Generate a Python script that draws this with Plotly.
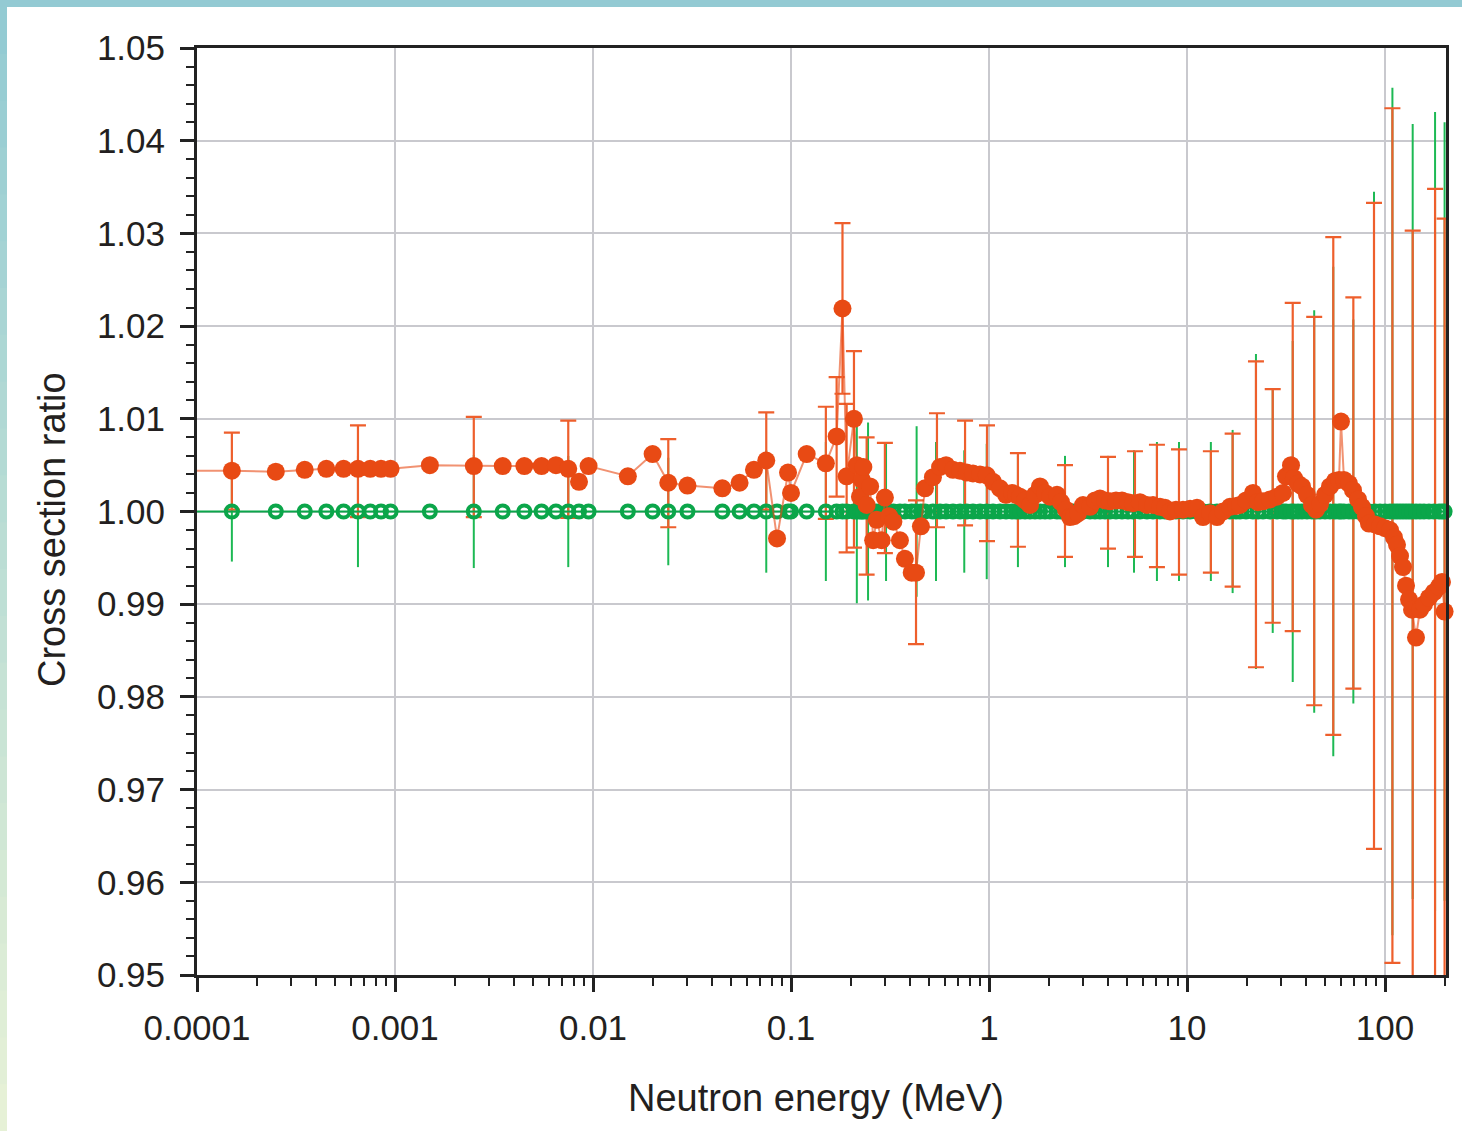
import plotly.graph_objects as go

# ---------------- data ----------------
# Shared neutron energies (MeV) for the two ratio series
energy = [
    1e-6,
    1.5e-4, 2.5e-4, 3.5e-4, 4.5e-4, 5.5e-4, 6.5e-4, 7.5e-4, 8.5e-4, 9.5e-4,
    1.5e-3, 2.5e-3, 3.5e-3, 4.5e-3, 5.5e-3, 6.5e-3, 7.5e-3, 8.5e-3, 9.5e-3,
    0.015, 0.020, 0.024, 0.030, 0.045, 0.055, 0.065, 0.075, 0.085, 0.0966, 0.100, 0.120,
    0.150, 0.170, 0.182, 0.191, 0.208, 0.215, 0.223, 0.228, 0.232, 0.241,
    0.251, 0.260, 0.271, 0.287, 0.298, 0.313, 0.329, 0.355, 0.376, 0.407,
    0.428, 0.453, 0.475, 0.521, 0.566, 0.607, 0.658, 0.714, 0.772, 0.830,
    0.901, 0.974, 1.048, 1.136, 1.219, 1.307, 1.369, 1.434, 1.520, 1.611,
    1.707, 1.810, 1.918, 2.033, 2.205, 2.310, 2.448, 2.565, 2.687, 2.815,
    2.984, 3.237, 3.430, 3.636, 3.854, 4.084, 4.379, 4.696, 5.035, 5.337,
    5.789, 6.280, 6.734, 7.306, 7.743, 8.207, 8.799, 9.546, 10.36, 11.23,
    12.05, 13.07, 14.18, 15.20, 16.49, 17.68, 18.52, 19.86, 21.54, 22.83,
    24.20, 26.25, 28.48, 30.54, 31.62, 33.52, 34.70, 36.36, 38.09, 40.37,
    42.79, 44.82, 46.96, 49.77, 52.75, 55.91, 58.57, 59.95, 62.08, 65.79,
    68.93, 73.06, 76.54, 80.18, 83.02, 89.03, 94.36, 100.0, 106.0, 111.0,
    115.0, 119.1, 123.3, 127.7, 132.2, 136.9, 143.4, 150.2, 157.4, 166.8,
    176.8, 187.4, 194.0, 200.0,
]

# Orange series: cross section ratio
ratio_orange = [
    1.0044,
    1.0044, 1.0043, 1.0045, 1.0046, 1.0046, 1.0046, 1.0046, 1.0046, 1.0046,
    1.0050, 1.0049, 1.0049, 1.0049, 1.0049, 1.0050, 1.0046, 1.0032, 1.0049,
    1.0038, 1.0062, 1.0031, 1.0028, 1.0025, 1.0031, 1.0045, 1.0055, 0.9971, 1.0042, 1.0020, 1.0062,
    1.0052, 1.0081, 1.0219, 1.0038, 1.0100, 1.0050, 1.0016, 1.0034, 1.0048, 1.0007,
    1.0027, 0.9969, 0.9991, 0.9969, 1.0015, 0.9995, 0.9989, 0.9969, 0.9949, 0.9934,
    0.9934, 0.9984, 1.0025, 1.0037, 1.0048, 1.0050, 1.0045, 1.0044, 1.0042, 1.0041,
    1.0040, 1.0039, 1.0032, 1.0025, 1.0018, 1.0020, 1.0018, 1.0016, 1.0012, 1.0007,
    1.0018, 1.0027, 1.0020, 1.0016, 1.0018, 1.0010, 1.0002, 0.9994, 0.9995, 0.9998,
    1.0007, 1.0005, 1.0012, 1.0014, 1.0012, 1.0011, 1.0012, 1.0012, 1.0010, 1.0009,
    1.0010, 1.0007, 1.0007, 1.0005, 1.0004, 1.0000, 1.0002, 1.0002, 1.0003, 1.0004,
    0.9994, 0.9998, 0.9994, 1.0000, 1.0005, 1.0006, 1.0007, 1.0012, 1.0020, 1.0010,
    1.0011, 1.0013, 1.0016, 1.0020, 1.0038, 1.0050, 1.0036, 1.0030, 1.0027, 1.0018,
    1.0007, 1.0002, 1.0008, 1.0018, 1.0027, 1.0033, 1.0034, 1.0097, 1.0034, 1.0030,
    1.0023, 1.0013, 1.0005, 0.9995, 0.9987, 0.9986, 0.9984, 0.9982, 0.9980, 0.9972,
    0.9964, 0.9952, 0.9940, 0.9920, 0.9905, 0.9894, 0.9864, 0.9894, 0.9900, 0.9907,
    0.9913, 0.9919, 0.9924, 0.9892,
]

# Green series: reference ratio (all 1.00)
ratio_green = [
    1.00,
    1.00, 1.00, 1.00, 1.00, 1.00, 1.00, 1.00, 1.00, 1.00,
    1.00, 1.00, 1.00, 1.00, 1.00, 1.00, 1.00, 1.00, 1.00,
    1.00, 1.00, 1.00, 1.00, 1.00, 1.00, 1.00, 1.00, 1.00, 1.00, 1.00, 1.00,
    1.00, 1.00, 1.00, 1.00, 1.00, 1.00, 1.00, 1.00, 1.00, 1.00,
    1.00, 1.00, 1.00, 1.00, 1.00, 1.00, 1.00, 1.00, 1.00, 1.00,
    1.00, 1.00, 1.00, 1.00, 1.00, 1.00, 1.00, 1.00, 1.00, 1.00,
    1.00, 1.00, 1.00, 1.00, 1.00, 1.00, 1.00, 1.00, 1.00, 1.00,
    1.00, 1.00, 1.00, 1.00, 1.00, 1.00, 1.00, 1.00, 1.00, 1.00,
    1.00, 1.00, 1.00, 1.00, 1.00, 1.00, 1.00, 1.00, 1.00, 1.00,
    1.00, 1.00, 1.00, 1.00, 1.00, 1.00, 1.00, 1.00, 1.00, 1.00,
    1.00, 1.00, 1.00, 1.00, 1.00, 1.00, 1.00, 1.00, 1.00, 1.00,
    1.00, 1.00, 1.00, 1.00, 1.00, 1.00, 1.00, 1.00, 1.00, 1.00,
    1.00, 1.00, 1.00, 1.00, 1.00, 1.00, 1.00, 1.00, 1.00, 1.00,
    1.00, 1.00, 1.00, 1.00, 1.00, 1.00, 1.00, 1.00, 1.00, 1.00,
    1.00, 1.00, 1.00, 1.00, 1.00, 1.00, 1.00, 1.00, 1.00, 1.00,
    1.00, 1.00, 1.00, 1.00,
]

# Orange uncertainties (energy, value, +err, -err)
oerr_energy = [1.5e-4, 6.5e-4, 2.5e-3, 7.5e-3, 0.024, 0.075, 0.150, 0.170, 0.182, 0.191,
               0.208, 0.241, 0.298, 0.428, 0.546, 0.757, 0.977, 1.40, 2.42, 3.99,
               5.46, 7.05, 9.11, 13.2, 17.0, 22.3, 27.1, 34.2, 43.9, 54.8,
               69.2, 88.0, 109.0, 138.0, 179.0, 200.0]
oerr_value = [1.0044, 1.0046, 1.0049, 1.0046, 1.0031, 1.0055, 1.0052, 1.0081, 1.0219, 1.0038,
              1.0100, 1.0007, 1.0015, 0.9934, 1.0045, 1.0042, 1.0035, 1.0016, 1.0002, 1.0011,
              1.0009, 1.0006, 1.0002, 0.9998, 1.0005, 1.0010, 1.0013, 1.0036, 1.0004, 1.0030,
              1.0023, 0.9986, 0.9976, 0.9892, 0.9911, 0.9892]
oerr_plus = [0.0041, 0.0047, 0.0053, 0.0052, 0.0047, 0.0052, 0.0061, 0.0064, 0.0092, 0.0078,
             0.0073, 0.0073, 0.0059, 0.0078, 0.0061, 0.0056, 0.0058, 0.0047, 0.0048, 0.0048,
             0.0056, 0.0066, 0.0065, 0.0067, 0.0079, 0.0152, 0.0119, 0.0189, 0.0206, 0.0266,
             0.0208, 0.0347, 0.0459, 0.0411, 0.0437, 0.0424]
oerr_minus = [0.0042, 0.0052, 0.0055, 0.0053, 0.0048, 0.0053, 0.0060, 0.0065, 0.0092, 0.0082,
              0.0139, 0.0075, 0.0060, 0.0077, 0.0062, 0.0057, 0.0067, 0.0054, 0.0051, 0.0051,
              0.0058, 0.0066, 0.0070, 0.0064, 0.0086, 0.0178, 0.0133, 0.0165, 0.0213, 0.0271,
              0.0214, 0.0350, 0.0463, 0.0411, 0.0437, 0.0424]

# Green uncertainties (symmetric about 1.00)
gerr_energy = [1.5e-4, 6.5e-4, 2.5e-3, 7.5e-3, 0.024, 0.075, 0.150, 0.215, 0.245, 0.302,
               0.431, 0.540, 0.750, 0.974, 1.40, 2.42, 3.99, 5.40, 7.05, 9.11,
               13.2, 17.0, 22.3, 27.1, 34.2, 43.9, 54.8, 69.2, 88.0, 109.0,
               138.0, 179.0, 200.0]
gerr_value = [1.00, 1.00, 1.00, 1.00, 1.00, 1.00, 1.00, 1.00, 1.00, 1.00,
              1.00, 1.00, 1.00, 1.00, 1.00, 1.00, 1.00, 1.00, 1.00, 1.00,
              1.00, 1.00, 1.00, 1.00, 1.00, 1.00, 1.00, 1.00, 1.00, 1.00,
              1.00, 1.00, 1.00]
gerr = [0.0054, 0.0060, 0.0061, 0.0060, 0.0058, 0.0066, 0.0075, 0.0099, 0.0096, 0.0075,
        0.0092, 0.0075, 0.0066, 0.0073, 0.0060, 0.0060, 0.0060, 0.0066, 0.0075, 0.0075,
        0.0075, 0.0088, 0.0170, 0.0131, 0.0184, 0.0217, 0.0264, 0.0207, 0.0345, 0.0457,
        0.0418, 0.0431, 0.0420]

x_tickvals = [1e-4, 1e-3, 1e-2, 1e-1, 1, 10, 100]
x_ticktext = ["0.0001", "0.001", "0.01", "0.1", "1", "10", "100"]
y_tickvals = [0.95, 0.96, 0.97, 0.98, 0.99, 1.00, 1.01, 1.02, 1.03, 1.04, 1.05]
y_ticktext = ["0.95", "0.96", "0.97", "0.98", "0.99", "1.00", "1.01", "1.02", "1.03", "1.04", "1.05"]

# ---------------- styling ----------------
ORANGE = "#E84A14"
ORANGE_BAR = "#EE5F2C"
GREEN = "#0BA64A"
GREEN_BAR = "#1DB954"
TXT = "#231F20"
AX = "#222222"
FONT = "Liberation Sans, Arial, sans-serif"

fig = go.Figure()

fig.add_trace(go.Scatter(
    x=gerr_energy, y=gerr_value, mode="markers",
    marker=dict(color="rgba(0,0,0,0)", size=1),
    error_y=dict(type="data", array=gerr, symmetric=True, color=GREEN_BAR,
                 thickness=2, width=0),
    showlegend=False, hoverinfo="skip"))

fig.add_trace(go.Scatter(
    x=oerr_energy, y=oerr_value, mode="markers",
    marker=dict(color="rgba(0,0,0,0)", size=1),
    error_y=dict(type="data", array=oerr_plus, arrayminus=oerr_minus, symmetric=False,
                 color=ORANGE_BAR, thickness=2.2, width=8),
    showlegend=False, hoverinfo="skip"))

fig.add_trace(go.Scatter(
    x=energy, y=ratio_green, mode="lines+markers",
    line=dict(color=GREEN, width=2),
    marker=dict(symbol="circle-open", size=12, color=GREEN, line=dict(width=4, color=GREEN)),
    cliponaxis=False, showlegend=False))

fig.add_trace(go.Scatter(
    x=energy, y=ratio_orange, mode="lines+markers",
    line=dict(color="rgba(232,74,20,0.6)", width=2),
    marker=dict(symbol="circle", size=18, color=ORANGE),
    cliponaxis=False, showlegend=False))

# decorative page frame (top and left strips)
W, H = 1462, 1131
L, R, T, B = 197, 16, 48, 156
pw, ph = W - L - R, H - T - B

def px2x(px):
    return (px - L) / pw

def py2y(py):
    return (H - B - py) / ph

shapes = [dict(type="rect", xref="paper", yref="paper",
               x0=px2x(0), x1=px2x(W), y0=py2y(7), y1=py2y(0),
               fillcolor="#93CAD3", line=dict(width=0), layer="above")]
c0 = (147, 203, 211)
c1 = (230, 241, 214)
nseg = 24
for i in range(nseg):
    t = i / (nseg - 1)
    col = tuple(round(c0[k] + (c1[k] - c0[k]) * t) for k in range(3))
    ya = 7 + (H - 7) * i / nseg
    yb = 7 + (H - 7) * (i + 1) / nseg
    shapes.append(dict(type="rect", xref="paper", yref="paper",
                       x0=px2x(0), x1=px2x(7), y0=py2y(yb + 1), y1=py2y(ya),
                       fillcolor="rgb(%d,%d,%d)" % col, line=dict(width=0), layer="above"))

annotations = [
    dict(text="Neutron energy (MeV)", xref="paper", yref="paper",
         x=px2x(816), y=py2y(1098), xanchor="center", yanchor="middle",
         showarrow=False, font=dict(size=38, color=TXT)),
    dict(text="Cross section ratio", xref="paper", yref="paper",
         x=px2x(52), y=py2y(530), xanchor="center", yanchor="middle", textangle=-90,
         showarrow=False, font=dict(size=38, color=TXT)),
]

fig.update_layout(
    width=W, height=H,
    margin=dict(l=L, r=R, t=T, b=B, pad=0),
    paper_bgcolor="white", plot_bgcolor="white",
    font=dict(family=FONT, size=35, color=TXT),
    shapes=shapes,
    annotations=annotations,
    showlegend=False,
)

fig.update_xaxes(
    type="log", range=[-4, 2.3081],
    tickvals=x_tickvals, ticktext=x_ticktext,
    ticks="outside", ticklen=14, tickwidth=3, tickcolor=AX,
    showline=True, linewidth=3, linecolor=AX, mirror=True,
    showgrid=True, gridcolor="#C9C9CE", gridwidth=1.5,
    zeroline=False,
    tickfont=dict(size=35, color=TXT),
    ticklabelstandoff=6,
    minor=dict(ticks="outside", ticklen=8, tickwidth=2, tickcolor=AX, dtick="D1", showgrid=False),
)

fig.update_yaxes(
    range=[0.95, 1.05],
    tickvals=y_tickvals, ticktext=y_ticktext,
    ticks="outside", ticklen=14, tickwidth=3, tickcolor=AX,
    showline=True, linewidth=3, linecolor=AX, mirror=True,
    showgrid=True, gridcolor="#C9C9CE", gridwidth=1.5,
    zeroline=False,
    tickfont=dict(size=35, color=TXT),
    ticklabelstandoff=8,
    minor=dict(ticks="outside", ticklen=8, tickwidth=2, tickcolor=AX, dtick=0.002,
               tick0=0.95, showgrid=False),
)

fig.write_html("out.html")
